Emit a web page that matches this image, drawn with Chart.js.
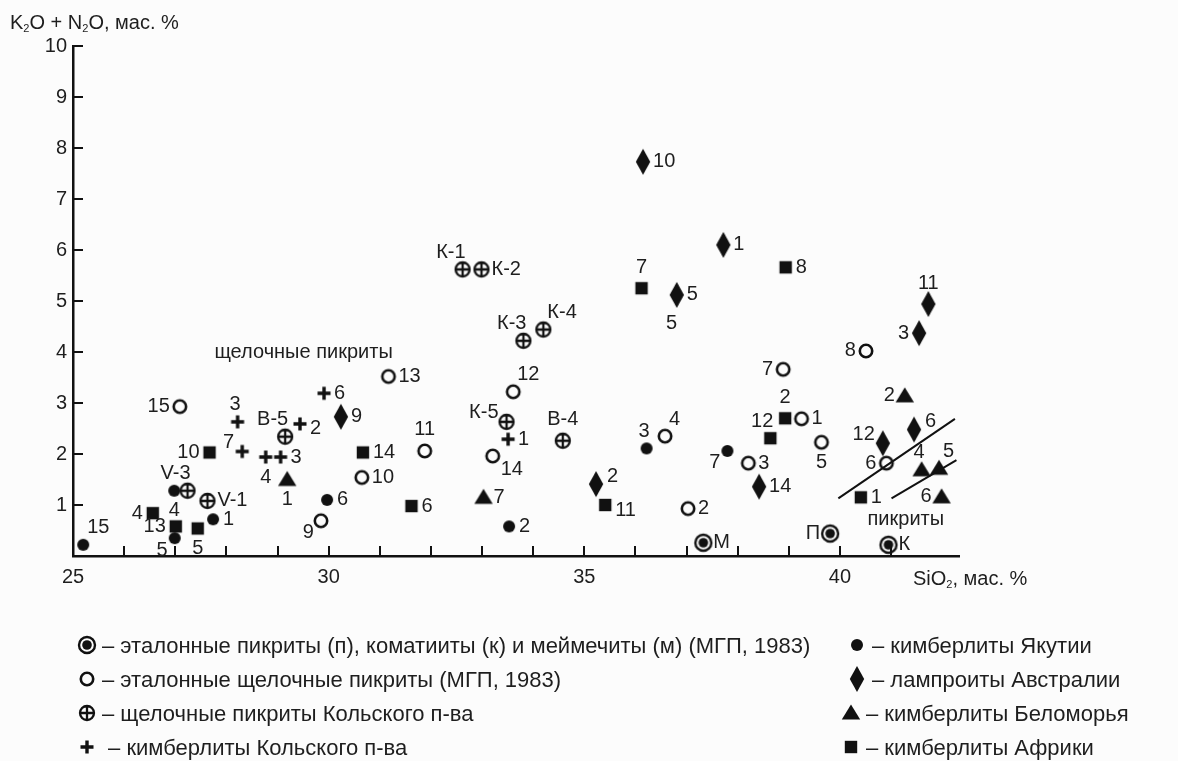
<!DOCTYPE html>
<html lang="ru">
<head>
<meta charset="utf-8">
<title>K2O + Na2O – SiO2</title>
<script src="https://cdn.jsdelivr.net/npm/chart.js@4.4.1/dist/chart.umd.min.js"></script>
<style>
  html, body { margin: 0; padding: 0; background: #fcfcfc; }
  body {
    width: 1178px; height: 761px; position: relative; overflow: hidden;
    font-family: 'Liberation Sans', Arial, sans-serif; color: #1e1e1e;
  }
  #wrap { position: absolute; left: 0; top: 0; width: 1178px; height: 761px; }
  .axis-title { position: absolute; font-size: 20px; line-height: 20px; white-space: nowrap; }
  .axis-title sub { font-size: 11px; vertical-align: -3px; line-height: 0; }
  .leg { position: absolute; font-size: 22px; height: 28px; line-height: 28px; white-space: nowrap; }
  .leg img { vertical-align: middle; position: relative; top: -2px; }
</style>
</head>
<body>
<div id="wrap"><canvas id="chart"></canvas></div>

<div class="axis-title" style="left:10px; top:12px;">K<sub>2</sub>O + N<sub>2</sub>O, мас. %</div>
<div class="axis-title" style="left:913px; top:568px;">SiO<sub>2</sub>, мас. %</div>

<div id="legend"></div>

<script>
// ─── данные: SiO2 (мас. %), K2O + Na2O (мас. %), номер пробы ─────────────

// кимберлиты Якутии
const yakSiO2 = [25.2, 26.98, 26.99, 27.74, 29.97, 33.53, 36.22, 37.80];
const yakAlk  = [0.22, 1.28, 0.35, 0.72, 1.10, 0.58, 2.11, 2.06];
const yakNum  = ['15', '4', '5', '1', '6', '2', '3', '7'];

// эталонные щелочные пикриты (МГП, 1983)
const refAlkSiO2 = [27.09, 29.85, 30.65, 31.17, 31.88, 33.21, 33.61, 36.58, 37.03, 38.21, 38.89, 39.25, 39.64, 40.51, 40.91];
const refAlkAlk  = [2.93, 0.69, 1.54, 3.52, 2.06, 1.96, 3.22, 2.35, 0.93, 1.82, 3.66, 2.69, 2.23, 4.02, 1.82];
const refAlkNum  = ['15', '9', '10', '13', '11', '14', '12', '4', '2', '3', '7', '1', '5', '8', '6'];

// щелочные пикриты Кольского п-ва
const kolaPicSiO2 = [27.24, 27.63, 29.15, 32.62, 32.99, 33.81, 34.20, 33.48, 34.58];
const kolaPicAlk  = [1.28, 1.08, 2.34, 5.62, 5.62, 4.22, 4.44, 2.63, 2.26];
const kolaPicNum  = ['V-3', 'V-1', 'В-5', 'К-1', 'К-2', 'К-3', 'К-4', 'К-5', 'В-4'];

// кимберлиты Кольского п-ва
const kolaKimSiO2 = [28.22, 28.31, 28.77, 29.06, 29.44, 29.91, 33.51];
const kolaKimAlk  = [2.63, 2.05, 1.94, 1.94, 2.59, 3.19, 2.29];
const kolaKimNum  = ['3', '7', '4', '3', '2', '6', '1'];

// кимберлиты Беломорья
const whiteSeaSiO2 = [29.19, 33.03, 41.27, 41.60, 41.94, 41.99];
const whiteSeaAlk  = [1.50, 1.15, 3.14, 1.69, 1.72, 1.16];
const whiteSeaNum  = ['1', '7', '2', '4', '5', '6'];

// лампроиты Австралии
const lampSiO2 = [30.24, 36.15, 37.72, 36.81, 35.23, 38.42, 41.73, 41.55, 40.84, 41.45];
const lampAlk  = [2.73, 7.73, 6.10, 5.12, 1.41, 1.36, 4.94, 4.37, 2.21, 2.48];
const lampNum  = ['9', '10', '1', '5', '2', '14', '11', '3', '12', '6'];

// кимберлиты Африки
const africaSiO2 = [26.56, 27.01, 27.44, 27.67, 30.67, 31.62, 35.41, 36.12, 38.94, 38.93, 38.64, 40.41];
const africaAlk  = [0.84, 0.58, 0.54, 2.03, 2.03, 0.98, 1.00, 5.25, 5.66, 2.70, 2.31, 1.15];
const africaNum  = ['4', '13', '5', '10', '14', '6', '11', '7', '8', '2', '12', '1'];

// эталонные пикриты (п), коматииты (к), меймечиты (м)
const refSiO2 = [37.33, 39.81, 40.95];
const refAlk  = [0.26, 0.44, 0.22];
const refNum  = ['М', 'П', 'К'];

// границы поля пикритов
const boundUpperSiO2 = [39.97, 42.25];
const boundUpperAlk  = [1.13, 2.69];
const boundLowerSiO2 = [41.01, 42.28];
const boundLowerAlk  = [1.13, 1.88];

// надписи на поле диаграммы
const noteText = ['щелочные пикриты', 'пикриты', '5'];
const noteSiO2 = [29.51, 41.29, 36.71];
const noteAlk  = [4.0, 0.72, 4.55];

// ─── куда ставить подпись относительно значка ────────────────
const yakSide      = ['tr', 'b', 'bl', 'r', 'r', 'r', 'tl', 'bl'];
const refAlkSide   = ['l', 'bl', 'r', 'r', 't', 'br', 'tr', 'tr', 'r', 'r', 'l', 'r', 'b', 'l', 'l'];
const kolaPicSide  = ['tl', 'r', 'tl', 'tl', 'r', 'tl', 'tr', 'lu', 't'];
const kolaKimSide  = ['tl', 'lu', 'b', 'r', 'rd', 'r', 'r'];
const whiteSeaSide = ['b', 'r', 'l', 'tl', 'tr', 'l'];
const lampSide     = ['r', 'r', 'r', 'r', 'ru', 'r', 't', 'l', 'lu', 'ru'];
const africaSide   = ['l', 'l', 'b', 'l', 'r', 'r', 'rd', 't', 'r', 't', 'tl', 'r'];
const refSide      = ['r', 'l', 'r'];

// [dx, dy, textAlign]
const SIDES = {
  r:  [10, 0, 'left'],   l:  [-10, 0, 'right'],
  t:  [0, -21, 'center'], b: [0, 20, 'center'],
  tr: [4, -17, 'left'],  tl: [3, -17, 'right'],
  br: [8, 13, 'left'],   bl: [-7, 12, 'right'],
  ru: [11, -8, 'left'],  rd: [10, 5, 'left'],
  lu: [-8, -9, 'right'],
};

const INK  = '#111';
const TEXT = '#1e1e1e';
const FONT_FAMILY = "'Liberation Sans', Arial, sans-serif";

// ─── значки ──────────────────────────────────────────────────
function makeSymbol(kind) {
  const c = document.createElement('canvas');
  c.width = 30; c.height = 30;
  const g = c.getContext('2d');
  const cx = 15, cy = 15;
  g.fillStyle = INK;
  g.strokeStyle = INK;
  g.beginPath();
  switch (kind) {
    case 'dot':
      g.arc(cx, cy, 6, 0, Math.PI * 2);
      g.fill();
      break;
    case 'ring':
      g.lineWidth = 2.6;
      g.arc(cx, cy, 6.2, 0, Math.PI * 2);
      g.stroke();
      break;
    case 'ringPlus':
      g.lineWidth = 2.3;
      g.arc(cx, cy, 7, 0, Math.PI * 2);
      g.moveTo(cx - 7, cy); g.lineTo(cx + 7, cy);
      g.moveTo(cx, cy - 7); g.lineTo(cx, cy + 7);
      g.stroke();
      break;
    case 'plus':
      g.lineWidth = 3.4;
      g.moveTo(cx - 6.5, cy); g.lineTo(cx + 6.5, cy);
      g.moveTo(cx, cy - 6.5); g.lineTo(cx, cy + 6.5);
      g.stroke();
      break;
    case 'diamond':
      g.moveTo(cx, cy - 13);
      g.lineTo(cx + 7.2, cy);
      g.lineTo(cx, cy + 13);
      g.lineTo(cx - 7.2, cy);
      g.closePath();
      g.fill();
      break;
    case 'triangle':
      g.moveTo(cx, cy - 8.5);
      g.lineTo(cx + 9.2, cy + 6.5);
      g.lineTo(cx - 9.2, cy + 6.5);
      g.closePath();
      g.fill();
      break;
    case 'square':
      g.rect(cx - 6.2, cy - 6.2, 12.4, 12.4);
      g.fill();
      break;
    case 'bullseye':
      g.lineWidth = 2.4;
      g.arc(cx, cy, 8, 0, Math.PI * 2);
      g.stroke();
      g.beginPath();
      g.arc(cx, cy, 4.8, 0, Math.PI * 2);
      g.fill();
      break;
  }
  return c;
}

const SYM = {};
['dot', 'ring', 'ringPlus', 'plus', 'diamond', 'triangle', 'square', 'bullseye']
  .forEach(k => { SYM[k] = makeSymbol(k); });

function toPoints(xs, ys) {
  return xs.map((x, i) => ({ x, y: ys[i] }));
}

function markerSet(label, xs, ys, names, sides, kind) {
  return {
    label,
    data: toPoints(xs, ys),
    names,
    sides,
    pointStyle: SYM[kind],
    pointRadius: 7,
    pointHoverRadius: 7,
    showLine: false,
  };
}

function boundSet(xs, ys) {
  return {
    label: 'граница',
    data: toPoints(xs, ys),
    showLine: true,
    borderColor: INK,
    borderWidth: 2,
    pointRadius: 0,
    pointHoverRadius: 0,
  };
}

// ─── подписи номеров проб и надписи поля ─────────────────────
const pointLabels = {
  id: 'pointLabels',
  afterDatasetsDraw(chart) {
    const { ctx } = chart;
    ctx.save();
    ctx.font = `20px ${FONT_FAMILY}`;
    ctx.fillStyle = TEXT;
    ctx.textBaseline = 'middle';
    chart.data.datasets.forEach((ds, i) => {
      if (!ds.names) return;
      chart.getDatasetMeta(i).data.forEach((pt, j) => {
        const [dx, dy, align] = SIDES[ds.sides[j]];
        ctx.textAlign = align;
        ctx.fillText(ds.names[j], pt.x + dx, pt.y + dy);
      });
    });
    const xs = chart.scales.x, ys = chart.scales.y;
    ctx.textAlign = 'center';
    noteText.forEach((t, k) => {
      ctx.fillText(t, xs.getPixelForValue(noteSiO2[k]), ys.getPixelForValue(noteAlk[k]));
    });
    ctx.restore();
  },
};

// ─── штрихи делений внутрь поля ──────────────────────────────
const inwardTicks = {
  id: 'inwardTicks',
  afterDraw(chart) {
    const { ctx, chartArea: a, scales: { x, y } } = chart;
    ctx.save();
    ctx.strokeStyle = INK;
    ctx.lineWidth = 2;
    ctx.beginPath();
    x.ticks.forEach(t => {
      if (!Number.isInteger(t.value)) return;
      const px = Math.round(x.getPixelForValue(t.value));
      ctx.moveTo(px, a.bottom);
      ctx.lineTo(px, a.bottom - 10);
    });
    y.ticks.forEach(t => {
      const py = Math.round(y.getPixelForValue(t.value));
      ctx.moveTo(a.left, py);
      ctx.lineTo(a.left + 10, py);
    });
    ctx.stroke();
    ctx.restore();
  },
};

Chart.defaults.font.family = FONT_FAMILY;
Chart.defaults.font.size = 20;
Chart.defaults.color = TEXT;

new Chart(document.getElementById('chart'), {
  type: 'scatter',
  data: {
    datasets: [
      boundSet(boundUpperSiO2, boundUpperAlk),
      boundSet(boundLowerSiO2, boundLowerAlk),
      markerSet('эталонные пикриты', refSiO2, refAlk, refNum, refSide, 'bullseye'),
      markerSet('эталонные щелочные пикриты', refAlkSiO2, refAlkAlk, refAlkNum, refAlkSide, 'ring'),
      markerSet('щелочные пикриты Кольского п-ва', kolaPicSiO2, kolaPicAlk, kolaPicNum, kolaPicSide, 'ringPlus'),
      markerSet('кимберлиты Кольского п-ва', kolaKimSiO2, kolaKimAlk, kolaKimNum, kolaKimSide, 'plus'),
      markerSet('кимберлиты Якутии', yakSiO2, yakAlk, yakNum, yakSide, 'dot'),
      markerSet('лампроиты Австралии', lampSiO2, lampAlk, lampNum, lampSide, 'diamond'),
      markerSet('кимберлиты Беломорья', whiteSeaSiO2, whiteSeaAlk, whiteSeaNum, whiteSeaSide, 'triangle'),
      markerSet('кимберлиты Африки', africaSiO2, africaAlk, africaNum, africaSide, 'square'),
    ],
  },
  options: {
    responsive: true,
    maintainAspectRatio: false,
    animation: false,
    events: [],
    layout: { padding: { left: 0, top: 46, right: 219, bottom: 160 } },
    scales: {
      x: {
        type: 'linear',
        min: 25, max: 42.33,
        grid: { display: false, drawTicks: false },
        border: { display: true, color: INK, width: 2.5 },
        ticks: {
          stepSize: 1,
          autoSkip: false,
          maxRotation: 0,
          padding: 9,
          callback: v => (v % 5 === 0 ? String(v) : ''),
        },
        afterFit(s) { s.height = 45; },
      },
      y: {
        type: 'linear',
        min: 0, max: 10,
        grid: { display: false, drawTicks: false },
        border: { display: true, color: INK, width: 2.5 },
        ticks: {
          stepSize: 1,
          padding: 6,
          callback: v => (v === 0 ? '' : String(v)),
        },
        afterFit(s) { s.width = 73; },
      },
    },
    plugins: {
      legend: { display: false },
      tooltip: { enabled: false },
    },
  },
  plugins: [inwardTicks, pointLabels],
});

// ─── легенда ─────────────────────────────────────────────────
const legendRows = [
  ['bullseye', 87, 646, '– эталонные пикриты (п), коматииты (к) и меймечиты (м) (МГП, 1983)'],
  ['ring', 87, 680, '– эталонные щелочные пикриты (МГП, 1983)'],
  ['ringPlus', 87, 714, '– щелочные пикриты Кольского п-ва'],
  ['plus', 87, 748, '\u00a0– кимберлиты Кольского п-ва'],
  ['dot', 857, 646, '– кимберлиты Якутии'],
  ['diamond', 857, 680, '– лампроиты Австралии'],
  ['triangle', 851, 714, '– кимберлиты Беломорья'],
  ['square', 851, 748, '– кимберлиты Африки'],
];

const legendEl = document.getElementById('legend');
legendRows.forEach(([kind, cx, cy, text]) => {
  const row = document.createElement('div');
  row.className = 'leg';
  row.style.left = (cx - 15) + 'px';
  row.style.top = (cy - 14) + 'px';
  const img = document.createElement('img');
  img.src = SYM[kind].toDataURL();
  img.width = 30; img.height = 30;
  row.appendChild(img);
  row.appendChild(document.createTextNode(text));
  legendEl.appendChild(row);
});
</script>
</body>
</html>
